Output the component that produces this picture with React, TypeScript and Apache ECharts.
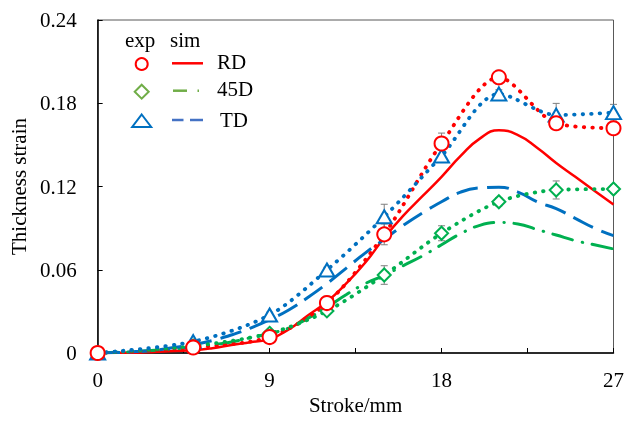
import React, { useEffect, useRef } from "react";
import * as echarts from "echarts";

// Experimental data (stroke in mm)
const expStroke = [0, 5, 9, 12, 15, 18, 21, 24, 27];
const rdExp = [0, 0.004, 0.0115, 0.036, 0.0855, 0.151, 0.1987, 0.1656, 0.162];
const d45Exp = [0, 0.005, 0.0142, 0.0303, 0.0562, 0.0863, 0.109, 0.1175, 0.1182];
const tdExp = [0, 0.0082, 0.0274, 0.0598, 0.0982, 0.142, 0.1867, 0.1715, 0.1732];
const rdErr = [0, 0.001, 0.002, 0.005, 0.0075, 0.0075, 0.005, 0.003, 0.003];
const d45Err = [0, 0.001, 0.002, 0.002, 0.0067, 0.0054, 0.003, 0.0065, 0.003];
const tdErr = [0, 0.001, 0.002, 0.002, 0.009, 0.004, 0.003, 0.0084, 0.006];

// Simulation data
const simStroke = [0, 1, 2, 3, 4, 5, 6, 7, 8, 9, 10, 11, 12, 13, 14, 15, 16, 17, 18, 19, 20, 21, 22, 23, 24, 25, 26, 27];
const rdSim = [0, 0.0001, 0.0002, 0.0008, 0.0015, 0.002, 0.0035, 0.0058, 0.0078, 0.01, 0.017, 0.027, 0.037, 0.05, 0.065, 0.083, 0.099, 0.113, 0.127, 0.142, 0.1545, 0.1605, 0.157, 0.148, 0.137, 0.127, 0.117, 0.107];
const d45Sim = [0, 0.0005, 0.001, 0.002, 0.003, 0.0045, 0.006, 0.008, 0.011, 0.014, 0.018, 0.025, 0.033, 0.042, 0.05, 0.056, 0.063, 0.07, 0.078, 0.086, 0.092, 0.094, 0.093, 0.089, 0.085, 0.081, 0.078, 0.075];
const tdSim = [0, 0.0003, 0.001, 0.002, 0.004, 0.006, 0.009, 0.013, 0.018, 0.024, 0.031, 0.04, 0.05, 0.061, 0.072, 0.082, 0.092, 0.101, 0.109, 0.116, 0.119, 0.1195, 0.116, 0.109, 0.104, 0.097, 0.09, 0.0846];

const xTicks = [0, 9, 18, 27];

const RED = "#FF0000";
const GREEN = "#00B050";
const BLUE = "#0070C0";
const FONT = '"Liberation Serif", "Times New Roman", serif';

const pairs = (xs: number[], ys: number[]) => xs.map((x, i) => [x, ys[i]]);
const triples = (xs: number[], ys: number[], es: number[]) => xs.map((x, i) => [x, ys[i], es[i]]);

export default function App() {
  const ref = useRef<HTMLDivElement>(null);
  useEffect(() => {
    if (!ref.current) return;
    const chart = echarts.init(ref.current, null, { renderer: "svg" });

    const errSeries = (data: number[][]) => ({
      type: "custom",
      z: 3,
      data,
      renderItem: (params: any, api: any) => {
        const x = api.value(0);
        const y = api.value(1);
        const e = api.value(2);
        if (!e) return { type: "group", children: [] };
        const t = api.coord([x, y + e]);
        const b = api.coord([x, y - e]);
        const hw = 3.5;
        const st = { stroke: "#7F7F7F", lineWidth: 1 };
        return {
          type: "group",
          children: [
            { type: "line", shape: { x1: t[0], y1: t[1], x2: b[0], y2: b[1] }, style: st },
            { type: "line", shape: { x1: t[0] - hw, y1: t[1], x2: t[0] + hw, y2: t[1] }, style: st },
            { type: "line", shape: { x1: b[0] - hw, y1: b[1], x2: b[0] + hw, y2: b[1] }, style: st },
          ],
        };
      },
    });

    const dotted = (data: number[][], color: string) => ({
      type: "line",
      data,
      smooth: 0.3,
      showSymbol: false,
      z: 2,
      lineStyle: { color, width: 3.8, type: [0.5, 8], cap: "round" },
    });

    const marker = (data: number[][], color: string, symbol: string, size: any) => ({
      type: "scatter",
      data,
      symbol,
      symbolSize: size,
      z: 5,
      itemStyle: { color: "#FFFFFF", borderColor: color, borderWidth: 2, opacity: 1 },
    });

    const legendText = (text: string, x: number, y: number) => ({
      type: "text",
      style: { text, x, y, fill: "#000", font: `21px ${FONT}`, align: "left", verticalAlign: "middle" },
    });

    chart.setOption({
      animation: false,
      textStyle: { fontFamily: FONT },
      grid: { left: 94, right: 10, top: 20, bottom: 68, show: true, borderColor: "#595959", borderWidth: 1 },
      xAxis: {
        type: "value",
        min: 0,
        max: 27,
        interval: 4.5,
        name: "Stroke/mm",
        nameLocation: "middle",
        nameGap: 40,
        nameTextStyle: { fontSize: 21, color: "#000", fontFamily: FONT },
        axisLine: { lineStyle: { color: "#000", width: 1.5 } },
        axisTick: { inside: true, length: 5, lineStyle: { color: "#000", width: 1 } },
        axisLabel: {
          fontSize: 21,
          color: "#000",
          margin: 16,
          fontFamily: FONT,
          formatter: (v: number) => (xTicks.includes(v) ? String(v) : ""),
        },
        splitLine: { show: false },
      },
      yAxis: {
        type: "value",
        min: 0,
        max: 0.24,
        interval: 0.06,
        name: "Thickness strain",
        nameLocation: "middle",
        nameGap: 62,
        nameTextStyle: { fontSize: 21, color: "#000", fontFamily: FONT },
        axisLine: { show: true, lineStyle: { color: "#000", width: 1.5 } },
        axisTick: { show: true, inside: true, length: 5, lineStyle: { color: "#000", width: 1 } },
        axisLabel: {
          fontSize: 21,
          color: "#000",
          margin: 21,
          fontFamily: FONT,
          formatter: (v: number) => (v === 0 ? "0" : v.toFixed(2)),
        },
        splitLine: { show: false },
      },
      graphic: [
        legendText("exp", 125, 40),
        legendText("sim", 170, 40),
        { type: "circle", shape: { cx: 141.7, cy: 64, r: 6 }, style: { fill: "#fff", stroke: RED, lineWidth: 2 } },
        { type: "line", shape: { x1: 172, y1: 63.3, x2: 203, y2: 63.3 }, style: { stroke: RED, lineWidth: 2.5 } },
        legendText("RD", 217, 62),
        { type: "polygon", shape: { points: [[141.7, 84.7], [148.7, 91.7], [141.7, 98.7], [134.7, 91.7]] }, style: { fill: "#fff", stroke: "#70AD47", lineWidth: 2 } },
        { type: "line", shape: { x1: 173, y1: 90.7, x2: 187, y2: 90.7 }, style: { stroke: "#70AD47", lineWidth: 2.5 } },
        { type: "line", shape: { x1: 197.5, y1: 90.7, x2: 199, y2: 90.7 }, style: { stroke: "#70AD47", lineWidth: 2.5 } },
        legendText("45D", 217, 88.5),
        { type: "polygon", shape: { points: [[141.7, 114.5], [151.2, 127], [132.2, 127]] }, style: { fill: "#fff", stroke: BLUE, lineWidth: 2 } },
        { type: "line", shape: { x1: 172, y1: 120, x2: 183.5, y2: 120 }, style: { stroke: "#4472C4", lineWidth: 2.5 } },
        { type: "line", shape: { x1: 190, y1: 120, x2: 203, y2: 120 }, style: { stroke: "#4472C4", lineWidth: 2.5 } },
        legendText("TD", 220, 119.5),
      ],
      series: [
        {
          type: "line",
          data: pairs(simStroke, rdSim),
          smooth: true,
          showSymbol: false,
          z: 2,
          lineStyle: { color: RED, width: 2.5, type: "solid" },
        },
        {
          type: "line",
          data: pairs(simStroke, d45Sim),
          smooth: true,
          showSymbol: false,
          z: 2,
          lineStyle: { color: GREEN, width: 3, type: [20, 10, 0.5, 10], cap: "round" },
        },
        {
          type: "line",
          data: pairs(simStroke, tdSim),
          smooth: true,
          showSymbol: false,
          z: 2,
          lineStyle: { color: BLUE, width: 3, type: [22, 9] },
        },
        dotted(pairs(expStroke, rdExp), RED),
        dotted(pairs(expStroke, d45Exp), GREEN),
        dotted(pairs(expStroke, tdExp), BLUE),
        errSeries(triples(expStroke, rdExp, rdErr)),
        errSeries(triples(expStroke, d45Exp, d45Err)),
        errSeries(triples(expStroke, tdExp, tdErr)),
        marker(pairs(expStroke, tdExp), BLUE, "triangle", [15, 13]),
        marker(pairs(expStroke, d45Exp), GREEN, "diamond", 13),
        marker(pairs(expStroke, rdExp), RED, "circle", 14),
      ],
    });

    return () => chart.dispose();
  }, []);

  return <div ref={ref} style={{ position: "fixed", left: 0, top: 0, width: 627, height: 421 }} />;
}
